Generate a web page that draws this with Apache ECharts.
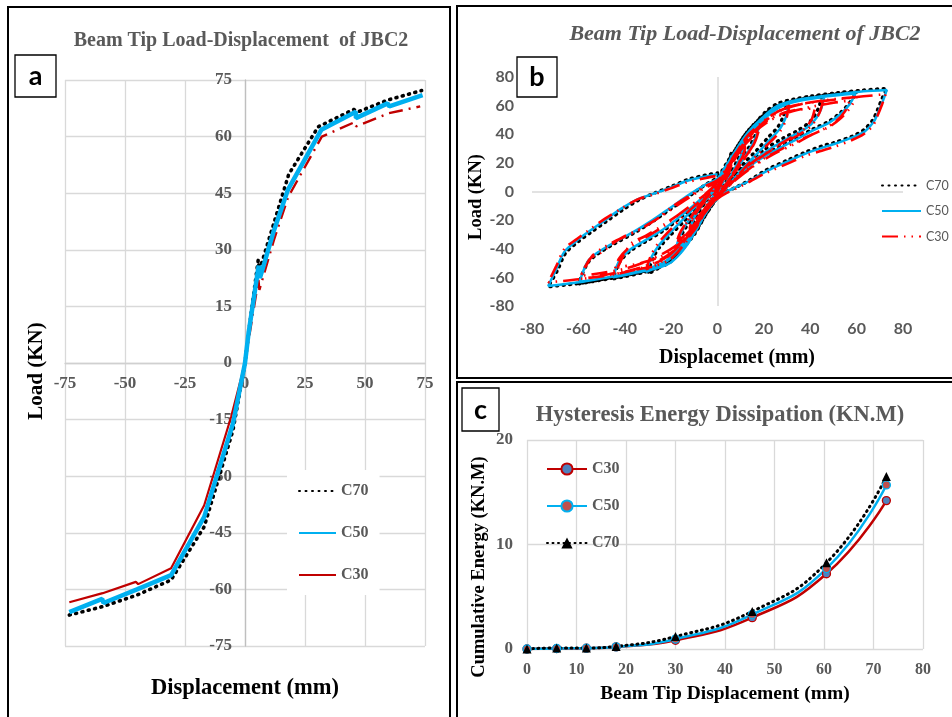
<!DOCTYPE html>
<html>
<head>
<meta charset="utf-8">
<script src="https://cdn.jsdelivr.net/npm/echarts@6/dist/echarts.min.js"></script>
<style>
  html, body { margin: 0; padding: 0; background: #fff; }
  #chart { width: 952px; height: 717px; }
</style>
</head>
<body>
<div id="chart"></div>
<script>
// ---------- (a) skeleton (envelope) curves, displacement mm / load kN ----------
const skeletonC70 = [[-73.2,-66.8],[-59.5,-64.6],[-45,-61.5],[-30.8,-57.5],[-17,-43.4],[-5,-17.8],[0,0],[1.5,8],[5.5,27.3],[6,24.5],[12,37],[17.5,48.5],[18.2,50],[30.5,62.6],[45.3,67.2],[47.2,66.6],[59.5,69.7],[73.6,72.2]];
const skeletonC50 = [[-73.2,-66],[-59.5,-62.5],[-59,-63.6],[-45,-60],[-30.8,-56.2],[-17,-40.8],[-5,-16],[0,0],[1.5,8],[5.7,25.8],[6.2,22.5],[12,35],[17.8,45.8],[31.8,61.8],[46.2,66.6],[46.2,64.9],[59.4,68.8],[60.1,68],[74,71]];
const skeletonC30Neg = [[-73.2,-63.4],[-59.3,-61],[-45.5,-58],[-44.5,-58.6],[-30.8,-54.4],[-17,-37.7],[-5.8,-14.3],[0,0]];
const skeletonC30Pos = [[0,0],[1.5,6],[5.6,22],[6,19.4],[12,32.5],[18,44],[32,60],[45.6,63.8],[46.2,62.7],[60,66.2],[73,68]];

// ---------- (b) hysteresis loops, cycle after cycle ----------
const hysC70 = [
  [0,0],[2,9],[4,18],[6,27],[5,20],[3,11],[1,3],[0,0],[-2,-6],[-4,-12],[-6,-18],[-5,-13],[-3,-7],[-1,-1],[0,2],
  [2,10],[5,19],[8,28],[10,33],[12,37],[11,31],[9,23],[6,14],[3,5],[1,0],[0,-2],[-3,-9],[-6,-17],[-9,-24],[-12,-30],[-11,-24],[-9,-17],[-6,-9],[-3,-2],[0,4],
  [3,13],[6,22],[9,31],[13,40],[16,45],[18,49],[16.5,40],[14,32],[10,22],[6,12],[2,2],[0,-2],[-3,-9],[-6,-17],[-10,-27],[-14,-36],[-18,-43],[-16.5,-34],[-14,-26],[-10,-17],[-6,-8],[-2,0],[0,5],
  [3,14],[7,25],[11,35],[16,45],[21,54],[26,59],[30,62.5],[28.5,53],[26,45],[22,38],[17,29],[11,19],[5,7],[1,-1],[0,-3],[-4,-13],[-8,-23],[-13,-34],[-19,-45],[-25,-53],[-30,-57.5],[-28,-47],[-25,-39],[-20,-30],[-14,-20],[-8,-10],[-3,-1],[0,6],
  [3,15],[7,27],[12,38],[17,48],[22,56],[28,61],[36,64.5],[45,67],[43.5,58],[40,49],[35,43],[28,37],[20,29],[12,18],[5,6],[1,-2],[0,-4],[-5,-16],[-10,-29],[-16,-41],[-23,-51],[-32,-56.5],[-45,-61],[-42.5,-50],[-38,-42],[-31,-35],[-23,-27],[-15,-17],[-7,-6],[-2,2],[0,8],
  [4,18],[8,30],[13,42],[19,52],[25,59],[33,63.5],[45,67],[60,69.5],[57,62],[53,55],[48,49],[41,43.5],[33,36.5],[24,29],[15,20],[7,9],[2,0],[0,-4],[-5,-16],[-10,-30],[-17,-43],[-25,-52],[-35,-57],[-47,-61],[-60,-64.5],[-56,-50],[-52,-44],[-45,-37],[-36,-29],[-28,-21],[-20,-12],[-12,-3],[-5,5],[0,10],
  [4,20],[8,30],[12,40],[16.5,48],[21,56],[26,61.5],[33,64.5],[40,66.5],[52,69],[63,70.8],[73,72],[71,65],[69,57],[67,50],[63,43],[58,38.5],[50,34],[45,31.7],[38,27.5],[31,22.5],[21,15],[14,8],[8,3],[4,0],[0,-4],[-4,-11],[-7,-19],[-10,-28],[-13,-36],[-17,-44],[-21,-50],[-27,-54],[-33,-56],[-44,-59.5],[-58,-63.8],[-73,-66.5],[-69,-55],[-65.5,-43],[-60,-35],[-55,-29],[-48,-21],[-41,-13],[-34,-6],[-27,-1],[-20,3.5],[-12.5,8.5],[-5,11.5],[0,13]
];
const hysC50 = [
  [0,0],[2,8],[4,16],[6,25],[5,18],[3,10],[1,2],[0,0],[-2,-5],[-4,-10],[-6,-16],[-5,-11],[-3,-6],[-1,-1],[0,2],
  [2,9],[5,18],[8,26],[10,31],[12,35],[11,29],[9,21],[6,12],[3,4],[1,-1],[0,-2],[-3,-8],[-6,-15],[-9,-22],[-12,-28],[-11,-22],[-9,-15],[-6,-8],[-3,-2],[0,3],
  [3,12],[6,21],[9,29],[13,38],[16,43],[18,46],[16.5,38],[14,30],[10,20],[6,11],[2,1],[0,-2],[-3,-9],[-6,-16],[-10,-26],[-14,-34],[-18,-40.8],[-16.5,-32],[-14,-24],[-10,-15],[-6,-7],[-2,0],[0,4],
  [3,13],[7,24],[11,34],[16,44],[21,52],[26,58],[31,61.8],[29.5,52],[27,44],[23,37],[18,28],[12,18],[6,7],[1,-1],[0,-3],[-4,-12],[-8,-22],[-13,-33],[-19,-44],[-25,-52],[-30.8,-56.2],[-28.5,-46],[-25.5,-38],[-20.5,-29],[-14.5,-19],[-8.5,-9],[-3,-1],[0,5],
  [3,14],[7,26],[12,37],[17,46],[22,54],[28,60],[36,63.5],[46,66],[44.5,57],[41,48],[36,42],[29,36],[21,28],[13,18],[6,6],[1,-2],[0,-4],[-5,-15],[-10,-28],[-16,-40],[-23,-50],[-32,-55.5],[-45,-60],[-42.5,-49],[-38,-41],[-31,-34],[-23,-26],[-15,-16],[-7,-5],[-2,3],[0,8],
  [4,17],[8,29],[13,41],[19,51],[25,58],[33,62.5],[45,66],[59.5,68.5],[57,61],[53,54],[48,48],[41,42.5],[33,35.5],[24,28],[15,19],[7,8],[2,0],[0,-4],[-5,-15],[-10,-29],[-17,-42],[-25,-51],[-35,-56],[-47,-60],[-59.5,-63],[-56,-49],[-52,-43],[-45,-36],[-36,-28],[-28,-20],[-20,-11],[-12,-2],[-5,5],[0,9],
  [4,19],[8,29],[12,38],[16.5,46],[21,54],[26,60],[33,63.5],[40,65.5],[52,68],[63,70],[73,71],[71.5,64],[69.5,56],[67.5,49],[63.5,42],[58.5,38],[50,33],[45,30.5],[38,26.5],[31,21.5],[21,14],[14,7.5],[8,3],[4,0],[0,-5],[-4,-12],[-7,-20],[-10,-29],[-13,-37],[-17,-45],[-21,-50.5],[-27,-54],[-33,-56],[-44,-59],[-58,-63],[-73,-66],[-69.5,-54],[-66,-42],[-60.5,-34],[-55.5,-28],[-48.5,-20],[-41.5,-12],[-34.5,-5.5],[-27.5,-1.5],[-20.5,2.5],[-13,7.5],[-5,10.5],[0,12]
];
const hysC30 = [
  [0,0],[2,7],[4,14],[6,21],[5,15],[3,8],[1,2],[0,0],[-2,-5],[-4,-10],[-6,-14.5],[-5,-10],[-3,-5],[-1,-1],[0,2],
  [2,8],[4,14],[6,19],[5,13],[3,7],[1,1],[0,-1],[-2,-5],[-4,-9],[-6,-13],[-5,-9],[-3,-4],[-1,0],[0,2],
  [2,8],[5,16],[8,24],[10,29],[12,33],[11,27],[9,19],[6,11],[3,3],[1,-1],[0,-2],[-3,-8],[-6,-14],[-9,-21],[-12,-26],[-11,-20],[-9,-14],[-6,-7],[-3,-1],[0,3],
  [3,11],[6,19],[9,26],[12,31],[11,25],[8,16],[5,8],[2,1],[0,-2],[-3,-8],[-6,-13],[-9,-19],[-12,-24],[-10,-17],[-7,-10],[-4,-4],[-1,1],[0,3],
  [3,11],[6,19],[9,27],[13,35],[16,40],[18,44],[16.5,36],[14,28],[10,19],[6,10],[2,1],[0,-2],[-3,-8],[-6,-15],[-10,-24],[-14,-31],[-18,-37.7],[-16.5,-30],[-14,-23],[-10,-14],[-6,-6],[-2,1],[0,4],
  [4,14],[8,24],[12,33],[15,38],[17,41],[15.5,33],[12,24],[8,15],[4,6],[1,0],[0,-2],[-4,-11],[-8,-20],[-12,-27],[-17,-35],[-15,-26],[-12,-19],[-8,-11],[-4,-4],[0,3],
  [3,12],[7,22],[11,32],[16,42],[21,50],[26,56],[31,60],[29.5,50],[27,42],[23,35],[18,27],[12,17],[6,6],[1,-1],[0,-3],[-4,-11],[-8,-20],[-13,-31],[-19,-42],[-25,-50],[-30.8,-54.4],[-28.5,-44],[-25.5,-36],[-20.5,-27],[-14.5,-17],[-8.5,-8],[-3,0],[0,4],
  [3,13],[7,24],[12,35],[17,44],[22,51],[28,57],[36,61],[45.5,63.5],[44,55],[40.5,46],[35.5,40],[28.5,34],[20.5,26],[12.5,16],[5.5,5],[1,-2],[0,-4],[-5,-14],[-10,-26],[-16,-37],[-23,-47],[-32,-53],[-45,-58.3],[-42.5,-47],[-38,-39],[-31,-32],[-23,-24],[-15,-14],[-7,-4],[-2,3],[0,7],
  [4,15],[9,28],[14,39],[20,48],[27,54],[34,57],[42,58],[40.5,50],[37,43],[31,37],[23,29],[14,19],[6,7],[1,-2],[0,-4],[-5,-14],[-10,-25],[-16,-36],[-24,-45],[-33,-50],[-43,-53],[-40,-43],[-37,-36],[-31,-31],[-23,-23],[-14,-13],[-6,-3],[0,5],
  [4,16],[8,27],[13,39],[19,48],[25,55],[33,60],[45,63.5],[60,66],[57,58],[53,51],[48,45],[41,40],[33,33],[24,26],[15,17],[7,7],[2,-1],[0,-4],[-5,-14],[-10,-27],[-17,-39],[-25,-48],[-35,-54],[-47,-58.5],[-59.5,-61],[-55,-47],[-50.5,-43],[-43,-34],[-34,-27],[-26,-19],[-19,-10],[-11,-2],[-5,4],[0,8],
  [4,15],[9,29],[15,40],[22,49],[30,55],[40,59],[50,62],[57,63.5],[55,56],[51,49],[45,43],[37,37],[28,30],[19,22],[10,11],[3,1],[0,-4],[-5,-14],[-11,-27],[-18,-38],[-28,-47],[-40,-54],[-59,-59],[-54,-45],[-49,-39],[-41,-32],[-32,-25],[-23,-16],[-14,-6],[-6,2],[0,7],
  [4,17],[8,27],[12,36],[16.5,43],[21,50],[26,56],[33,60],[40,62],[52,64.5],[63,66.5],[72.5,68],[71,61],[69,53],[67,46],[63,40],[58,36],[50,31],[45,28.5],[38,25],[31,20],[21,13],[14,7],[8,2],[4,-1],[0,-5],[-4,-11],[-7,-18],[-10,-26],[-13,-34],[-17,-42],[-21,-48],[-27,-52],[-33,-54],[-44,-57],[-58,-61],[-73,-63.4],[-69.5,-52],[-66,-40],[-60.5,-33],[-55.5,-27],[-48.5,-19],[-41.5,-12],[-34.5,-5.5],[-27.5,-2],[-20.5,2],[-13,6.5],[-5,9.5],[0,11]
];

// ---------- (c) cumulative hysteresis energy, kN.m ----------
const energyDisp = [0, 6, 12, 18, 30, 45.5, 60.5, 72.6];
const energyC30 = [0, 0.04, 0.08, 0.2, 0.83, 3.0, 7.2, 14.2];
const energyC50 = [0, 0.05, 0.08, 0.2, 0.95, 3.3, 7.7, 15.7];
const energyC70 = [0, 0.1, 0.1, 0.25, 1.2, 3.6, 8.25, 16.5];

const SERIF = "'Liberation Serif', 'DejaVu Serif', serif";
const SANS = "Lato, 'Liberation Sans', sans-serif";
const GREY = '#595959';
const BLUE = '#00B0F0';

const pairs = (xs, ys) => xs.map((x, i) => [x, ys[i]]);
const stripTag = name => name.slice(2);

const chart = echarts.init(document.getElementById('chart'));

const gridBase = { containLabel: false, outerBoundsMode: 'none' };

// panel (a) axes cross at the origin: shift them from the grid edge onto zero
const GRID_A = { left: 65, top: 80, width: 360, height: 566 };
const A_X_SHIFT = -GRID_A.height / 2;   // x-axis drawn on load = 0
const A_Y_SHIFT = -GRID_A.width / 2;    // y-axis drawn on displacement = 0

const option = {
  animation: false,
  backgroundColor: '#fff',
  title: [
    { text: 'Beam Tip Load-Displacement  of JBC2', left: 236, top: 26, textAlign: 'center',
      textStyle: { fontFamily: SERIF, fontWeight: 'bold', fontSize: 20, color: GREY } },
    { text: 'Beam Tip Load-Displacement of JBC2', left: 740, top: 18, textAlign: 'center',
      textStyle: { fontFamily: SERIF, fontWeight: 'bold', fontStyle: 'italic', fontSize: 22, color: GREY } },
    { text: 'Hysteresis Energy Dissipation (KN.M)', left: 715, top: 399, textAlign: 'center',
      textStyle: { fontFamily: SERIF, fontWeight: 'bold', fontSize: 22.5, color: GREY } }
  ],
  grid: [
    Object.assign({}, GRID_A, gridBase),
    Object.assign({ left: 532, top: 77, width: 371, height: 229 }, gridBase),
    Object.assign({ left: 527, top: 440, width: 396, height: 209 }, gridBase)
  ],
  xAxis: [
    { gridIndex: 0, type: 'value', min: -75, max: 75, interval: 25, offset: A_X_SHIFT,
      axisLine: { onZero: false, lineStyle: { color: '#D0D0D0', width: 1.3 } },
      axisTick: { show: false },
      splitLine: { lineStyle: { color: '#D9D9D9', width: 1.3 } },
      axisLabel: { margin: 12, fontFamily: SERIF, fontWeight: 'bold', fontSize: 17, color: GREY },
      name: 'Displacement (mm)', nameLocation: 'middle', nameGap: 314,
      nameTextStyle: { fontFamily: SERIF, fontWeight: 'bold', fontSize: 22.5, color: '#000' } },
    { gridIndex: 1, type: 'value', min: -80, max: 80, interval: 20,
      axisLine: { show: false }, axisTick: { show: false }, splitLine: { show: false },
      axisLabel: { margin: 15, fontFamily: SANS, fontWeight: 'bold', fontSize: 16, color: GREY },
      name: 'Displacemet (mm)', nameLocation: 'middle', nameGap: 42,
      nameTextStyle: { fontFamily: SERIF, fontWeight: 'bold', fontSize: 20, color: '#000', padding: [0, 0, 0, 39] } },
    { gridIndex: 2, type: 'value', min: 0, max: 80, interval: 10,
      axisLine: { show: false }, axisTick: { show: false },
      splitLine: { lineStyle: { color: '#D9D9D9', width: 1.3 } },
      axisLabel: { margin: 13, fontFamily: SERIF, fontWeight: 'bold', fontSize: 16, color: GREY },
      name: 'Beam Tip Displacement (mm)', nameLocation: 'middle', nameGap: 35,
      nameTextStyle: { fontFamily: SERIF, fontWeight: 'bold', fontSize: 19.5, color: '#000' } }
  ],
  yAxis: [
    { gridIndex: 0, type: 'value', min: -75, max: 75, interval: 15, offset: A_Y_SHIFT,
      axisLine: { onZero: false, lineStyle: { color: '#BFBFBF', width: 1.3 } },
      axisTick: { show: false },
      splitLine: { lineStyle: { color: '#D9D9D9', width: 1.3 } },
      axisLabel: { margin: 13, fontFamily: SERIF, fontWeight: 'bold', fontSize: 17, color: GREY },
      name: 'Load (KN)', nameLocation: 'middle', nameGap: 198,
      nameTextStyle: { fontFamily: SERIF, fontWeight: 'bold', fontSize: 21, color: '#000', padding: [0, 16, 0, 0] } },
    { gridIndex: 1, type: 'value', min: -80, max: 80, interval: 20,
      axisLine: { show: false }, axisTick: { show: false }, splitLine: { show: false },
      axisLabel: { margin: 18, fontFamily: SANS, fontWeight: 'bold', fontSize: 16, color: GREY },
      name: 'Load (KN)', nameLocation: 'middle', nameGap: 46,
      nameTextStyle: { fontFamily: SERIF, fontWeight: 'bold', fontSize: 18.5, color: '#000', padding: [0, 11, 0, 0] } },
    { gridIndex: 2, type: 'value', min: 0, max: 20, interval: 10,
      axisLine: { show: false }, axisTick: { show: false },
      splitLine: { lineStyle: { color: '#D9D9D9', width: 1.3 } },
      axisLabel: { margin: 14, fontFamily: SERIF, fontWeight: 'bold', fontSize: 17, color: GREY },
      name: 'Cumulative Energy (KN.M)', nameLocation: 'middle', nameGap: 38,
      nameTextStyle: { fontFamily: SERIF, fontWeight: 'bold', fontSize: 18.5, color: '#000', padding: [0, 45, 0, 0] } }
  ],
  legend: [
    { data: ['a:C70', 'a:C50', 'a:C30'], orient: 'vertical', left: 287, top: 470,
      padding: [13, 11, 12, 11], backgroundColor: '#fff', itemWidth: 37, itemHeight: 14, itemGap: 26,
      formatter: stripTag, selectedMode: false, itemStyle: { opacity: 0 },
      textStyle: { fontFamily: SERIF, fontWeight: 'bold', fontSize: 16, color: GREY } },
    { data: ['b:C70', 'b:C50', 'b:C30'], orient: 'vertical', left: 881, top: 179,
      padding: 0, itemWidth: 39, itemHeight: 14, itemGap: 12.5, formatter: stripTag, selectedMode: false,
      itemStyle: { opacity: 0 },
      textStyle: { fontFamily: SANS, fontSize: 12.5, color: GREY } },
    { data: ['c:C30', 'c:C50', 'c:C70'], orient: 'vertical', left: 546, top: 461,
      padding: 0, itemWidth: 40, itemHeight: 14, itemGap: 21, formatter: stripTag, selectedMode: false,
      textStyle: { fontFamily: SERIF, fontWeight: 'bold', fontSize: 16, color: GREY } }
  ],
  graphic: [
    { type: 'rect', shape: { x: 8, y: 7, width: 442, height: 720 }, style: { fill: 'none', stroke: '#000', lineWidth: 2 }, z: 100 },
    { type: 'rect', shape: { x: 457, y: 6, width: 500, height: 372 }, style: { fill: 'none', stroke: '#000', lineWidth: 2 }, z: 100 },
    { type: 'rect', shape: { x: 457, y: 382, width: 500, height: 340 }, style: { fill: 'none', stroke: '#000', lineWidth: 2 }, z: 100 },
    { type: 'rect', shape: { x: 15, y: 55, width: 41, height: 42 }, style: { fill: '#fff', stroke: '#000', lineWidth: 1.3 }, z: 100 },
    { type: 'text', x: 35.5, y: 76, style: { text: 'a', fontFamily: SANS, fontWeight: 'bold', fontSize: 27, fill: '#000', align: 'center', verticalAlign: 'middle' }, z: 101 },
    { type: 'rect', shape: { x: 517, y: 57, width: 40, height: 40 }, style: { fill: '#fff', stroke: '#000', lineWidth: 1.3 }, z: 100 },
    { type: 'text', x: 537, y: 77, style: { text: 'b', fontFamily: SANS, fontWeight: 'bold', fontSize: 27, fill: '#000', align: 'center', verticalAlign: 'middle' }, z: 101 },
    { type: 'rect', shape: { x: 462, y: 388, width: 37, height: 43 }, style: { fill: '#fff', stroke: '#000', lineWidth: 1.3 }, z: 100 },
    { type: 'text', x: 480.5, y: 410, style: { text: 'c', fontFamily: SANS, fontWeight: 'bold', fontSize: 27, fill: '#000', align: 'center', verticalAlign: 'middle' }, z: 101 }
  ],
  series: [
    // (a) skeleton curves
    { name: 'a:C30', type: 'line', xAxisIndex: 0, yAxisIndex: 0, data: skeletonC30Neg, symbol: 'none',
      lineStyle: { color: '#C00000', width: 2.2 }, itemStyle: { color: '#C00000' } },
    { name: 'a:C30+', type: 'line', xAxisIndex: 0, yAxisIndex: 0, data: skeletonC30Pos, symbol: 'none',
      lineStyle: { color: '#C00000', width: 2.4, type: [14, 6, 2, 6] }, itemStyle: { color: '#C00000' } },
    { name: 'a:C70', type: 'line', xAxisIndex: 0, yAxisIndex: 0, data: skeletonC70, symbol: 'none',
      lineStyle: { color: '#000', width: 3.6, type: [1, 5.5], cap: 'round' }, itemStyle: { color: '#000' } },
    { name: 'a:C50', type: 'line', xAxisIndex: 0, yAxisIndex: 0, data: skeletonC50, symbol: 'none',
      lineStyle: { color: BLUE, width: 4.5 }, itemStyle: { color: BLUE } },

    // (b) hysteresis loops
    { name: 'b:C70', type: 'line', xAxisIndex: 1, yAxisIndex: 1, data: hysC70, symbol: 'none', smooth: 0.3,
      lineStyle: { color: '#000', width: 3.5, type: [1, 5.5], cap: 'round' }, itemStyle: { color: '#000' },
      markLine: { silent: true, symbol: 'none', z: 1, label: { show: false },
        lineStyle: { color: '#D9D9D9', width: 1.5, type: 'solid' },
        data: [{ xAxis: 0 }, { yAxis: 0 }] } },
    { name: 'b:C50', type: 'line', xAxisIndex: 1, yAxisIndex: 1, data: hysC50, symbol: 'none', smooth: 0.3,
      lineStyle: { color: BLUE, width: 2.5 }, itemStyle: { color: BLUE } },
    { name: 'b:C30', type: 'line', xAxisIndex: 1, yAxisIndex: 1, data: hysC30, symbol: 'none', smooth: 0.3,
      lineStyle: { color: '#FF0000', width: 2.6, type: [16, 6, 1.5, 6, 1.5, 6] }, itemStyle: { color: '#FF0000' } },

    // (c) cumulative energy
    { name: 'c:C30', type: 'line', xAxisIndex: 2, yAxisIndex: 2, data: pairs(energyDisp, energyC30), smooth: 0.5,
      symbol: 'circle', symbolSize: 8,
      lineStyle: { color: '#C00000', width: 2.5 },
      itemStyle: { color: '#4F81BD', borderColor: '#C00000', borderWidth: 1.3 } },
    { name: 'c:C50', type: 'line', xAxisIndex: 2, yAxisIndex: 2, data: pairs(energyDisp, energyC50), smooth: 0.5,
      symbol: 'circle', symbolSize: 8,
      lineStyle: { color: BLUE, width: 2.5 },
      itemStyle: { color: '#C0504D', borderColor: BLUE, borderWidth: 1.3 } },
    { name: 'c:C70', type: 'line', xAxisIndex: 2, yAxisIndex: 2, data: pairs(energyDisp, energyC70), smooth: 0.5,
      symbol: 'triangle', symbolSize: 9,
      lineStyle: { color: '#000', width: 3, type: [1, 4.5], cap: 'round' },
      itemStyle: { color: '#000' } }
  ]
};

chart.setOption(option);
</script>
</body>
</html>
